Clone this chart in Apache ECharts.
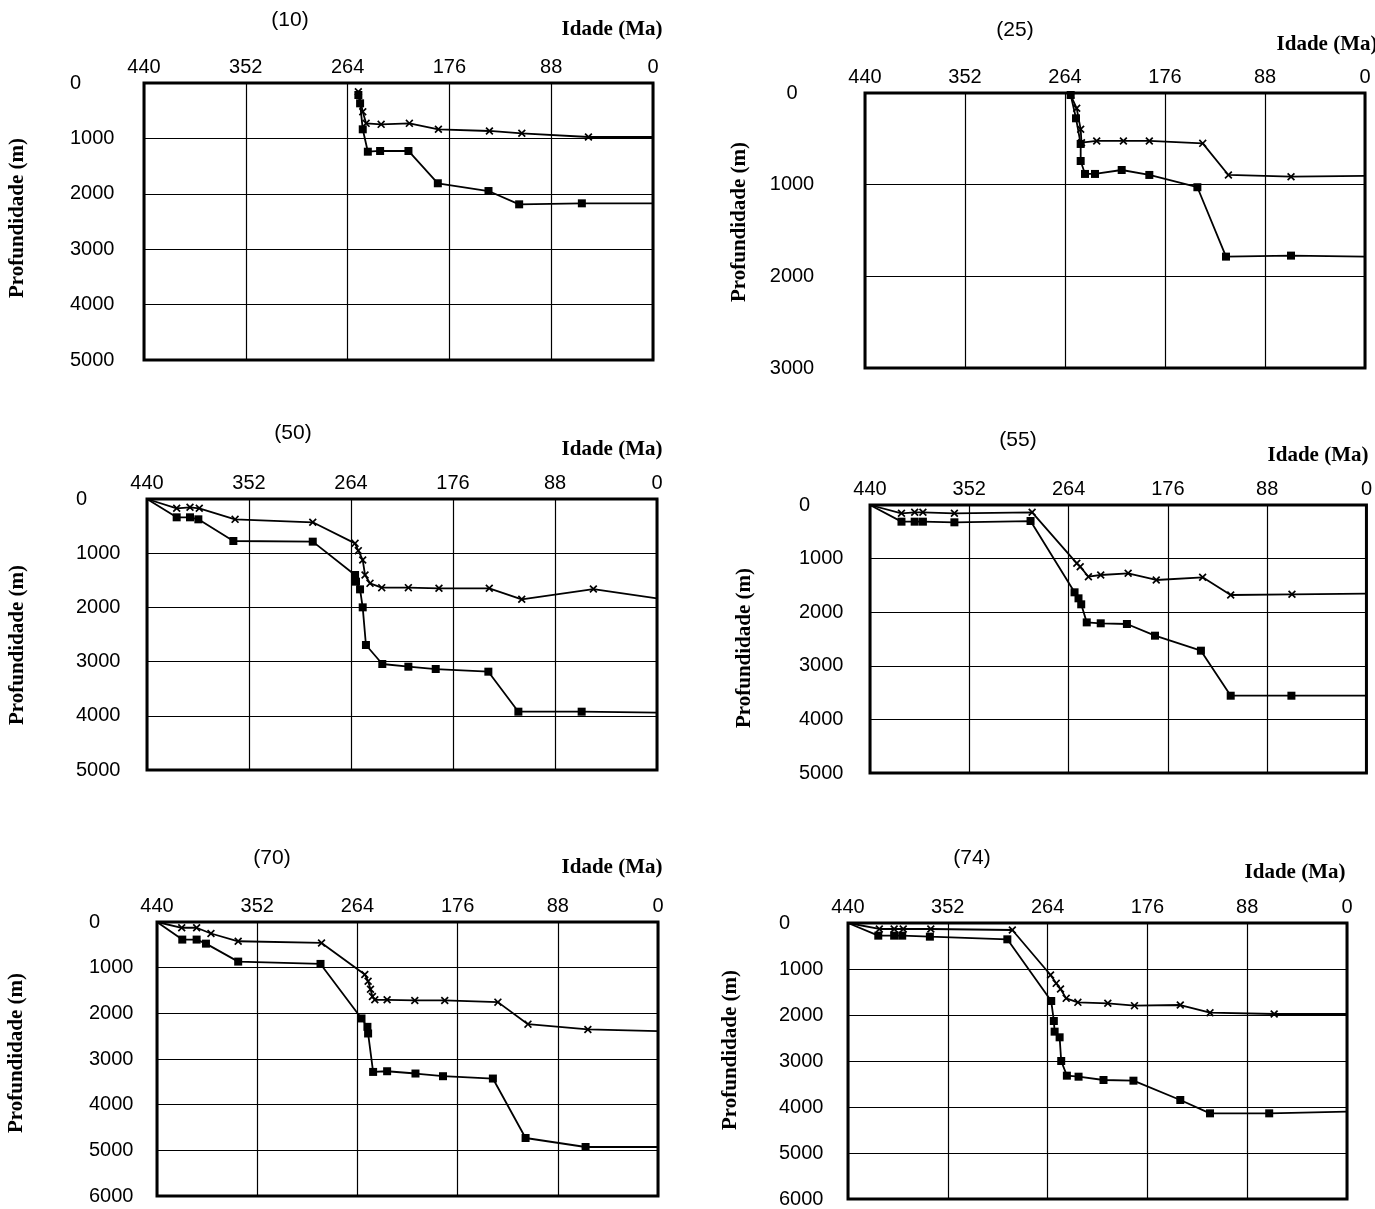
<!DOCTYPE html>
<html><head><meta charset="utf-8">
<script src="https://cdn.jsdelivr.net/npm/echarts@6/dist/echarts.min.js"></script>
<style>html,body{margin:0;padding:0;background:#fff}#c{width:1375px;height:1209px}</style>
</head><body><div id="c"></div>
<script>
// ---- data: [age (Ma), depth (m)] ----
const ageTickLabels = [440, 352, 264, 176, 88, 0];
const depthMaxByWell = [5000, 3000, 5000, 5000, 6000, 6000];
const wellNames = ['(10)', '(25)', '(50)', '(55)', '(70)', '(74)'];

const well10Squares = [[254.7,217],[253.2,367],[250.9,836],[246.5,1240],[235.9,1227],[211.4,1227],[186,1810],[142.2,1950],[115.7,2190],[61.5,2172],[0,2172]];
const well10Crosses = [[254.7,157],[250.9,518],[248,728],[235,746],[210.6,728],[185.5,836],[141.4,866],[113.4,908],[55.8,975],[0,975]];

const well25Squares = [[259,22],[254.3,276],[250.2,556],[250.2,742],[246.4,883],[237.6,883],[214.1,840],[189.8,894],[147.5,1028],[122.3,1785],[65.1,1774],[0,1785]];
const well25Crosses = [[259,22],[253.7,167],[250.2,396],[249.5,542],[236.1,523],[212.6,523],[189.8,523],[142.8,549],[120.2,894],[65.1,913],[0,905]];

const well50Squares = [[440,0],[414.4,338],[402.9,338],[395.7,375],[365.5,775],[297,787],[260.5,1402],[259.7,1525],[256.2,1667],[253.9,1999],[251.1,2694],[237,3044],[214.5,3094],[190.9,3137],[145.5,3186],[119.6,3924],[65,3924],[0,3940]];
const well50Crosses = [[440,0],[414.4,172],[402.9,153],[394.9,172],[364,375],[297,430],[260.5,818],[257.7,953],[253.9,1125],[251.9,1402],[247.6,1556],[237.5,1636],[214.5,1636],[188.1,1648],[144.7,1648],[116.7,1851],[54.9,1661],[0,1833]];

const well55Squares = [[440,0],[412.1,311],[400.4,311],[393.1,311],[365.2,323],[297.7,299],[258.7,1629],[255.2,1741],[252.8,1853],[247.9,2190],[235.5,2207],[212.3,2220],[187.4,2438],[146.7,2718],[120.3,3558],[66.5,3558],[0,3558]];
const well55Crosses = [[440,0],[412.1,155],[400.4,136],[393.1,136],[365.2,155],[296.3,136],[256.7,1088],[253.7,1151],[246.4,1338],[235.5,1306],[211.2,1274],[186.3,1399],[145.2,1349],[120.3,1679],[66,1666],[0,1654]];

const well70Squares = [[440,0],[417.8,385],[405.2,385],[397,474],[368.7,867],[296.4,918],[260.4,2112],[255.2,2296],[254.6,2441],[250.2,3283],[237.9,3268],[213,3318],[188.8,3377],[145,3428],[116.3,4730],[63.6,4927],[0,4927]];
const well70Crosses = [[440,0],[418.3,126],[405.2,126],[392.6,252],[368.7,422],[295.5,459],[257.5,1148],[254.6,1296],[252.5,1474],[250.8,1630],[248.7,1704],[237.9,1704],[213.6,1718],[187.3,1718],[140.6,1755],[114.2,2237],[61.6,2353],[0,2390]];

const well74Squares = [[440,0],[413.3,275],[399.3,275],[392.2,275],[367.8,297],[299.5,355],[260.8,1696],[258.5,2130],[257.8,2362],[253.4,2485],[252,3000],[247,3319],[236.7,3341],[214.7,3413],[188.3,3428],[147,3848],[120.8,4138],[68.6,4138],[0,4100]];
const well74Crosses = [[440,0],[412.4,130],[399.3,130],[391.3,130],[367,130],[295.1,152],[261.4,1130],[256.4,1312],[252.6,1435],[247.6,1638],[237.3,1725],[210.9,1746],[187.4,1797],[147,1783],[120.8,1950],[64.2,1978],[0,1978]];

const squaresByWell = [well10Squares, well25Squares, well50Squares, well55Squares, well70Squares, well74Squares];
const crossesByWell = [well10Crosses, well25Crosses, well50Crosses, well55Crosses, well70Crosses, well74Crosses];

// ---- layout ----
const layout = [
  {grid:{left:144,top:83,width:509,height:277}, yAlign:'left', yMargin:74, title:[290,20], idade:[612,30], prof:[18,218]},
  {grid:{left:865,top:93,width:500,height:275}, yAlign:'center', yMargin:73, title:[1015,30], idade:[1327,45], prof:[740,222]},
  {grid:{left:147,top:499,width:510,height:271}, yAlign:'left', yMargin:71, title:[293,433], idade:[612,450], prof:[18,645]},
  {grid:{left:870,top:505,width:500,height:268}, yAlign:'left', yMargin:71, title:[1018,440], idade:[1318,456], prof:[745,648]},
  {grid:{left:157,top:922,width:501,height:274}, yAlign:'left', yMargin:68, title:[272,858], idade:[612,868], prof:[17,1053]},
  {grid:{left:848,top:923,width:499,height:276}, yAlign:'left', yMargin:69, title:[972,858], idade:[1295,873], prof:[731,1050]}
];

const SANS = '"Liberation Sans", Arial, sans-serif';
const SERIF = '"Liberation Serif", "Times New Roman", serif';
const CROSS = 'path://M0,1.5L1.5,0L5,3.5L8.5,0L10,1.5L6.5,5L10,8.5L8.5,10L5,6.5L1.5,10L0,8.5L3.5,5Z';
const ageMin = Math.min(...ageTickLabels), ageMax = Math.max(...ageTickLabels);
const ageStep = ageTickLabels[0] - ageTickLabels[1];

const grids = [], xAxes = [], yAxes = [], series = [], graphics = [];
layout.forEach((L, i) => {
  grids.push(Object.assign({show:true, borderColor:'#000', borderWidth:3, backgroundColor:'#fff', containLabel:false}, L.grid));
  xAxes.push({type:'value', gridIndex:i, position:'top', inverse:true, min:ageMin, max:ageMax, interval:ageStep,
    axisLine:{show:false}, axisTick:{show:false},
    axisLabel:{color:'#000', fontSize:20, fontFamily:SANS, margin:6, showMinLabel:true, showMaxLabel:true, formatter: v => String(v)},
    splitLine:{show:true, lineStyle:{color:'#000', width:1.2}}});
  yAxes.push({type:'value', gridIndex:i, inverse:true, min:0, max:depthMaxByWell[i], interval:1000,
    axisLine:{show:false}, axisTick:{show:false},
    axisLabel:{color:'#000', fontSize:20, fontFamily:SANS, margin:L.yMargin, align:L.yAlign, showMinLabel:true, showMaxLabel:true, formatter: v => String(v)},
    splitLine:{show:true, lineStyle:{color:'#000', width:1.2}}});
  const endSym = s => (v => (v[0] === ageMin || v[0] === ageMax) ? 'none' : s);
  series.push({type:'line', xAxisIndex:i, yAxisIndex:i, data:crossesByWell[i], symbol:endSym(CROSS), symbolSize:8,
    showAllSymbol:true, color:'#000', itemStyle:{color:'#000'}, lineStyle:{color:'#000', width:1.8}, z:3});
  series.push({type:'line', xAxisIndex:i, yAxisIndex:i, data:squaresByWell[i], symbol:endSym('rect'), symbolSize:8,
    showAllSymbol:true, color:'#000', itemStyle:{color:'#000'}, lineStyle:{color:'#000', width:1.8}, z:4});
  graphics.push({type:'text', x:L.title[0], y:L.title[1], style:{text:wellNames[i], font:'21px '+SANS, fill:'#000', align:'center', verticalAlign:'middle', textAlign:'center', textVerticalAlign:'middle'}});
  graphics.push({type:'text', x:L.idade[0], y:L.idade[1], style:{text:'Idade (Ma)', font:'bold 21px '+SERIF, fill:'#000', align:'center', verticalAlign:'middle', textAlign:'center', textVerticalAlign:'middle'}});
  graphics.push({type:'text', x:L.prof[0], y:L.prof[1], rotation:Math.PI/2, style:{text:'Profundidade (m)', font:'bold 21px '+SERIF, fill:'#000', align:'center', verticalAlign:'middle', textAlign:'center', textVerticalAlign:'middle'}});
});

const chart = echarts.init(document.getElementById('c'));
chart.setOption({animation:false, backgroundColor:'#fff', grid:grids, xAxis:xAxes, yAxis:yAxes, series:series, graphic:graphics});
</script></body></html>
